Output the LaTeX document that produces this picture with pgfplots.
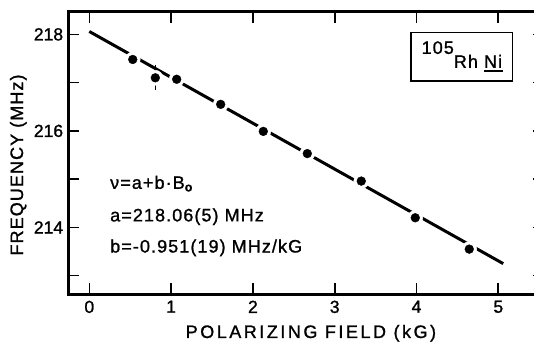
\documentclass[border=0pt]{standalone}
\usepackage{fontspec}
\setmainfont[FakeBold=1.2]{Liberation Sans}
\newfontfamily\xlabfont[LetterSpace=14,FakeBold=1.2]{Liberation Sans}
\newfontfamily\ylabfont[LetterSpace=6,FakeBold=1.2]{Liberation Sans}
\newfontfamily\annfont[LetterSpace=6,FakeBold=1.2]{Liberation Sans}
\usepackage{pgfplots}
\pgfplotsset{compat=1.18}
\usepackage{pgfplotstable}
\pgfplotstableread{
x y err
0.531 217.48 0
0.807 217.10 0.26
1.068 217.07 0
1.606 216.55 0
2.127 215.99 0
2.665 215.53 0
3.325 214.96 0
3.985 214.20 0
4.645 213.55 0
}\datatable
\pgfplotstableread{
x y
0 218.06
5.06 213.25
}\fittable
\begin{document}
\begin{tikzpicture}
\begin{axis}[
  at={(0,0)}, anchor=south west,
  scale only axis, width=475.7pt, height=282.8pt,
  xmin=-0.257, xmax=5.559, ymin=212.61, ymax=218.47,
  axis line style={line width=3pt},
  xtick={0,1,2,3,4,5}, ytick={214,216,218}, minor ytick={213,215,217},
  tick align=inside, xtick pos=both, ytick pos=both,
  major tick length=11pt, minor tick length=11pt,
  every tick/.style={black, line width=1.6pt},
  /pgf/number format/assume math mode=true,
  xticklabel style={font=\fontsize{17.5}{20}\selectfont, inner sep=0pt, anchor=north, yshift=-6pt},
  yticklabel style={font=\fontsize{17.5}{20}\selectfont, inner sep=0pt, anchor=east, xshift=-5pt},
  xlabel={\xlabfont POLARIZING FIELD (kG)},
  xlabel style={at={(axis description cs:0.510,-0.1538)}, anchor=base, font=\fontsize{18}{20}\selectfont, inner sep=0pt},
  ylabel={\ylabfont FREQUENCY (MHz)},
  ylabel style={at={(axis description cs:-0.0952,0.458)}, anchor=base, font=\fontsize{18}{20}\selectfont, inner sep=0pt},
]
\addplot[black, line width=3pt] table[x=x, y=y] {\fittable};
\addplot[only marks, mark=*, mark size=7.5pt, white, mark options={draw=white, fill=white}] table[x=x, y=y] {\datatable};
\addplot[only marks, mark=*, mark size=4.4pt, black, mark options={draw=black, fill=black},
  error bars/.cd, y dir=both, y explicit, error mark=none,
  error bar style={line width=1.6pt, black}]
  table[x=x, y=y, y error=err] {\datatable};
\node[anchor=base west, inner sep=0pt, font=\fontsize{18}{20}\selectfont\annfont] at (axis cs:0.253,214.80) {ν=a+b·B\textsubscript{\textbf{o}}};
\node[anchor=base west, inner sep=0pt, font=\fontsize{18}{20}\selectfont\annfont] at (axis cs:0.253,214.125) {a=218.06(5) MHz};
\node[anchor=base west, inner sep=0pt, font=\fontsize{18}{20}\selectfont\annfont] at (axis cs:0.253,213.48) {b=-0.951(19) MHz/kG};
\node[draw, line width=1.3pt, minimum width=101.7pt, minimum height=48.8pt, inner sep=0pt, font=\fontsize{18}{20}\selectfont\annfont] at (axis cs:4.555,217.54) {\raisebox{14pt}{105}Rh \rlap{\rule[-4pt]{19pt}{1.7pt}}Ni};
\end{axis}
\pgfresetboundingbox
\useasboundingbox (-68.3pt,-49.5pt) rectangle (465.7pt,294.5pt);
\end{tikzpicture}
\end{document}
